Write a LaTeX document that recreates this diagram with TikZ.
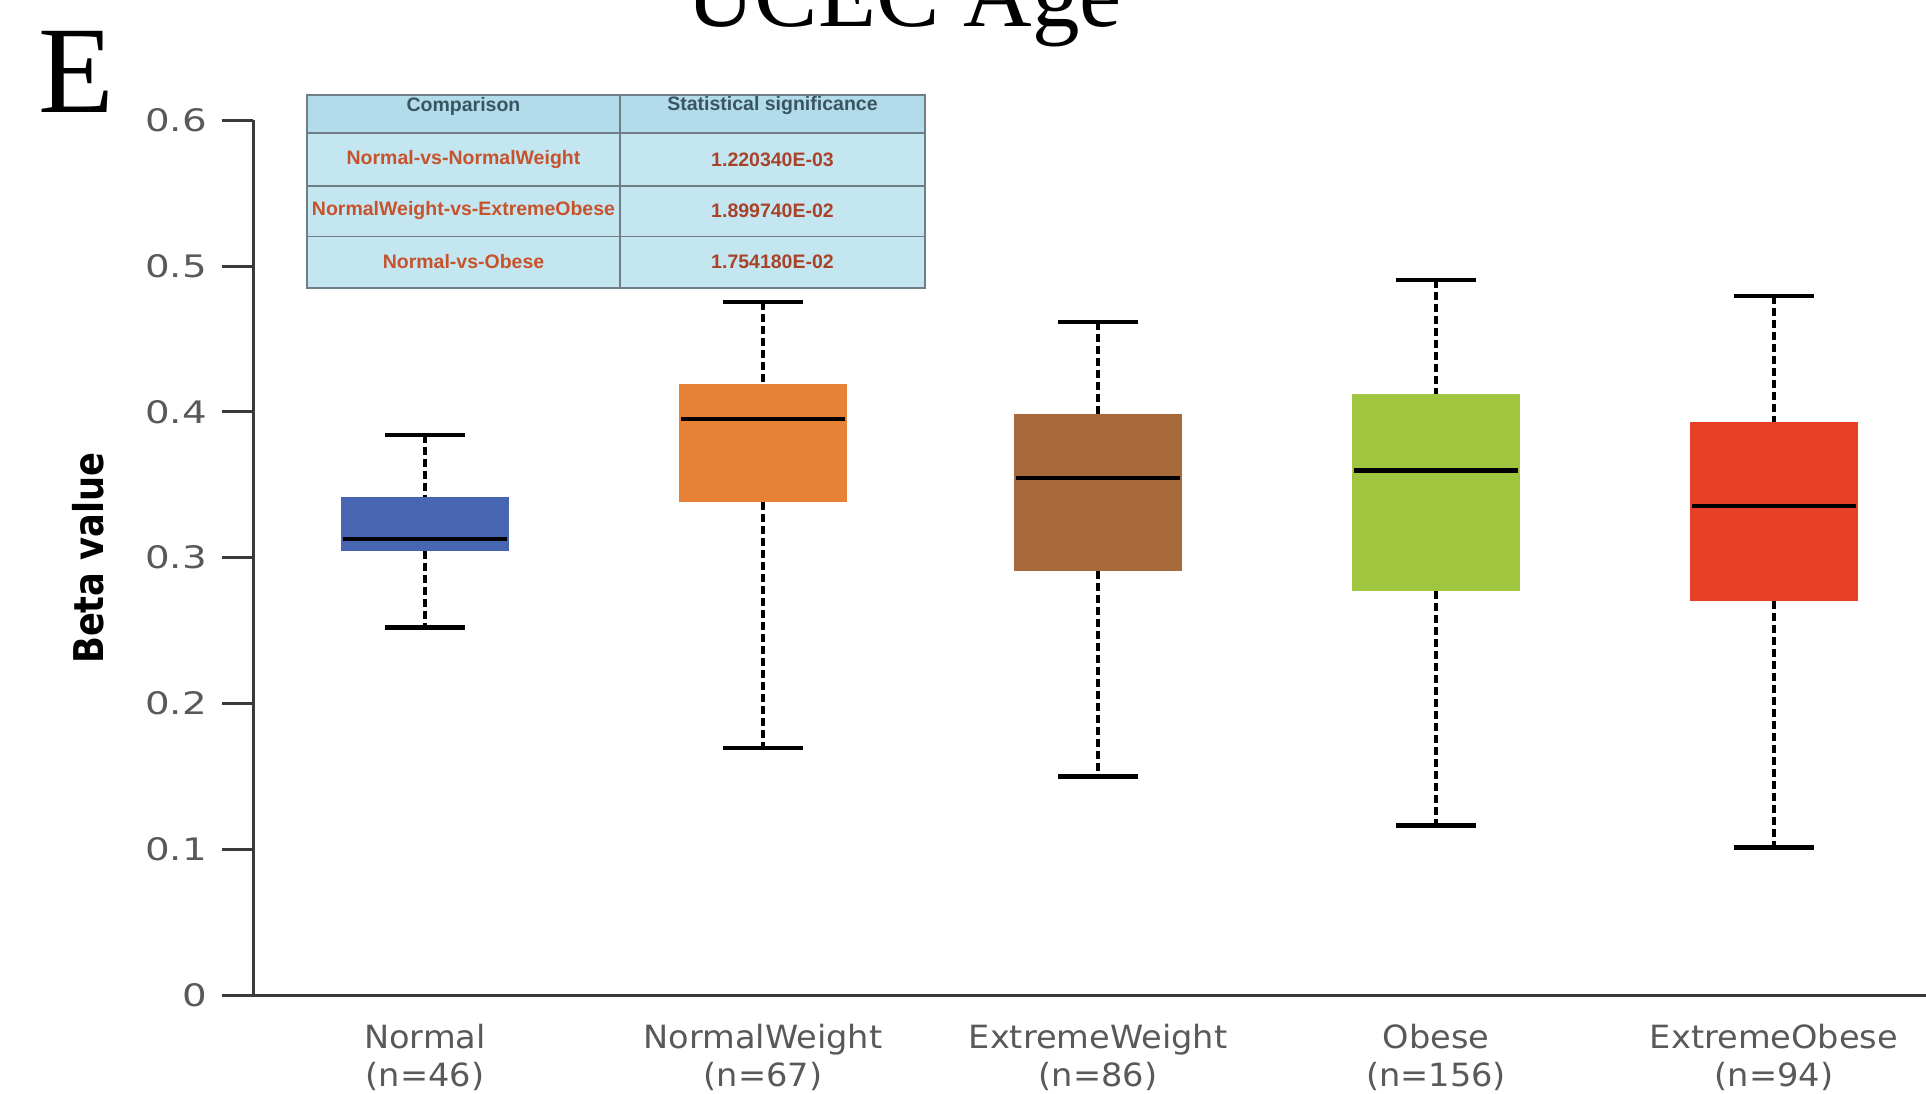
\documentclass[tikz,border=0pt]{standalone}
\usepackage{fontspec}
\usepackage{graphicx}
\newfontfamily\tickfont{DejaVu Sans}
\newfontfamily\tabfont{Liberation Sans}
\newfontfamily\headfont{Liberation Serif}

\definecolor{ucAxis}{RGB}{58,58,58}
\definecolor{ucTick}{RGB}{89,89,89}
\definecolor{ucNormal}{RGB}{72,101,178}
\definecolor{ucNormalWeight}{RGB}{230,129,53}
\definecolor{ucExtremeWeight}{RGB}{168,106,58}
\definecolor{ucObese}{RGB}{160,198,64}
\definecolor{ucExtremeObese}{RGB}{232,64,38}
\definecolor{ucTabHead}{RGB}{178,220,235}
\definecolor{ucTabRow}{RGB}{196,230,240}
\definecolor{ucTabLine}{RGB}{110,126,132}
\definecolor{ucTabHeadText}{RGB}{59,85,96}
\definecolor{ucTabRowText}{RGB}{198,83,43}
\definecolor{ucTabValText}{RGB}{168,67,42}

\tikzset{
  ucaxis/.style={line width=3pt, draw=ucAxis},
  ucwhisker/.style={line width=4pt, draw=black, dash pattern=on 8pt off 4pt},
  uccap/.style={line width=4.5pt, draw=black},
  ucmedian/.style={line width=4.5pt, draw=black},
  ucticklabel/.style={anchor=east, inner sep=0pt, text=ucTick, font=\tickfont\fontsize{31}{31}\selectfont, xscale=1.25},
  uccatlabel/.style={anchor=base, inner sep=0pt, text=ucTick, font=\tickfont\fontsize{32}{32}\selectfont, xscale=1.05},
  uctabtext/.style={inner sep=0pt, font=\tabfont\bfseries\fontsize{19.5}{19.5}\selectfont}
}

\begin{document}
\begin{tikzpicture}[x=1pt, y=1pt]
  \clip (0,0) rectangle (1926,1093);
  \fill[white] (0,0) rectangle (1926,1093);

  % titles
  \node[anchor=base, inner sep=0pt, font=\headfont\fontsize{95}{95}\selectfont] (title) at (904,1066) {UCEC Age};
  \node[anchor=base west, inner sep=0pt, font=\headfont\fontsize{124}{124}\selectfont] (panel) at (38,980) {E};

  % axes
  \draw[ucaxis] (253,972.6) -- (253,98) -- (1926,98);
  \draw[ucaxis] (222,98) -- (253,98);
  \node[ucticklabel] (t0) at (207,98) {0};
  \draw[ucaxis] (222,243.8) -- (253,243.8);
  \node[ucticklabel] (t1) at (207,243.8) {0.1};
  \draw[ucaxis] (222,389.5) -- (253,389.5);
  \node[ucticklabel] (t2) at (207,389.5) {0.2};
  \draw[ucaxis] (222,535.3) -- (253,535.3);
  \node[ucticklabel] (t3) at (207,535.3) {0.3};
  \draw[ucaxis] (222,681.1) -- (253,681.1);
  \node[ucticklabel] (t4) at (207,681.1) {0.4};
  \draw[ucaxis] (222,826.9) -- (253,826.9);
  \node[ucticklabel] (t5) at (207,826.9) {0.5};
  \draw[ucaxis] (222,972.6) -- (253,972.6);
  \node[ucticklabel] (t6) at (207,972.6) {0.6};
  \node[rotate=90, inner sep=0pt, font=\tickfont\bfseries\fontsize{41}{41}\selectfont] (ylabel) at (88,535) {\scalebox{0.86}[1]{Beta value}};

  % Normal
  \draw[ucwhisker] (425,658.2) -- (425,595.5);
  \draw[ucwhisker] (425,541.5) -- (425,465.3);
  \draw[uccap] (385,658.2) -- (465,658.2);
  \draw[uccap] (385,465.3) -- (465,465.3);
  \fill[ucNormal] (341,541.5) rectangle (509,595.5);
  \draw[ucmedian] (343,553.8) -- (507,553.8);

  % NormalWeight
  \draw[ucwhisker] (763,790.8) -- (763,708.5);
  \draw[ucwhisker] (763,590.6) -- (763,345);
  \draw[uccap] (723,790.8) -- (803,790.8);
  \draw[uccap] (723,345) -- (803,345);
  \fill[ucNormalWeight] (679,590.6) rectangle (847,708.5);
  \draw[ucmedian] (681,674.2) -- (845,674.2);

  % ExtremeWeight
  \draw[ucwhisker] (1098,771.2) -- (1098,679.1);
  \draw[ucwhisker] (1098,521.8) -- (1098,316.7);
  \draw[uccap] (1058,771.2) -- (1138,771.2);
  \draw[uccap] (1058,316.7) -- (1138,316.7);
  \fill[ucExtremeWeight] (1014,521.8) rectangle (1182,679.1);
  \draw[ucmedian] (1016,615.2) -- (1180,615.2);

  % Obese
  \draw[ucwhisker] (1436,813) -- (1436,698.7);
  \draw[ucwhisker] (1436,502.2) -- (1436,267.6);
  \draw[uccap] (1396,813) -- (1476,813);
  \draw[uccap] (1396,267.6) -- (1476,267.6);
  \fill[ucObese] (1352,502.2) rectangle (1520,698.7);
  \draw[ucmedian] (1354,622.6) -- (1518,622.6);

  % ExtremeObese
  \draw[ucwhisker] (1774,797) -- (1774,670.5);
  \draw[ucwhisker] (1774,492.4) -- (1774,245.5);
  \draw[uccap] (1734,797) -- (1814,797);
  \draw[uccap] (1734,245.5) -- (1814,245.5);
  \fill[ucExtremeObese] (1690,492.4) rectangle (1858,670.5);
  \draw[ucmedian] (1692,586.9) -- (1856,586.9);

  % group labels
  \node[uccatlabel] (catNormal) at (425,45) {Normal};
  \node[uccatlabel] (nNormal) at (425,7) {(n=46)};
  \node[uccatlabel] (catNormalWeight) at (763,45) {NormalWeight};
  \node[uccatlabel] (nNormalWeight) at (763,7) {(n=67)};
  \node[uccatlabel] (catExtremeWeight) at (1098,45) {ExtremeWeight};
  \node[uccatlabel] (nExtremeWeight) at (1098,7) {(n=86)};
  \node[uccatlabel] (catObese) at (1436,45) {Obese};
  \node[uccatlabel] (nObese) at (1436,7) {(n=156)};
  \node[uccatlabel] (catExtremeObese) at (1774,45) {ExtremeObese};
  \node[uccatlabel] (nExtremeObese) at (1774,7) {(n=94)};

  % comparison table
  \fill[ucTabHead] (307,960) rectangle (925,998);
  \fill[ucTabRow] (307,805) rectangle (925,960);
  \draw[line width=2.5pt, draw=ucTabLine] (307,805) rectangle (925,998);
  \draw[line width=1.5pt, draw=ucTabLine] (307,960) -- (925,960);
  \draw[line width=1.5pt, draw=ucTabLine] (307,907) -- (925,907);
  \draw[line width=1.5pt, draw=ucTabLine] (307,856.3) -- (925,856.3);
  \draw[line width=1.5pt, draw=ucTabLine] (620,805) -- (620,998);
  \node[uctabtext, text=ucTabHeadText] (headCmp) at (463.5,987) {Comparison};
  \node[uctabtext, text=ucTabHeadText] (headSig) at (772.5,987) {Statistical significance};
  \node[uctabtext, text=ucTabRowText] (cmpA) at (463.5,933.5) {Normal-vs-NormalWeight};
  \node[uctabtext, text=ucTabValText] (sigA) at (772.5,933.5) {1.220340E-03};
  \node[uctabtext, text=ucTabRowText] (cmpB) at (463.5,882) {NormalWeight-vs-ExtremeObese};
  \node[uctabtext, text=ucTabValText] (sigB) at (772.5,882) {1.899740E-02};
  \node[uctabtext, text=ucTabRowText] (cmpC) at (463.5,831) {Normal-vs-Obese};
  \node[uctabtext, text=ucTabValText] (sigC) at (772.5,831) {1.754180E-02};
\end{tikzpicture}
\end{document}
